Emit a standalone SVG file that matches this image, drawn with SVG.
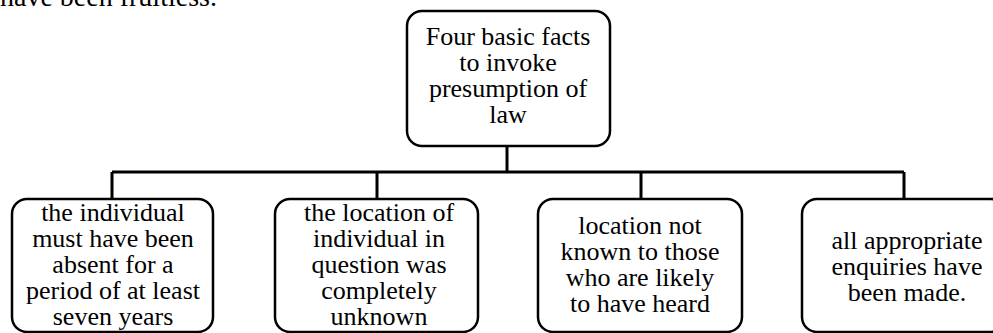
<svg xmlns="http://www.w3.org/2000/svg" width="993" height="333" viewBox="0 0 993 333">
<style>
.box{fill:#fff;stroke:#000;stroke-width:2.5}
.t{font-family:Tinos,"Liberation Serif","Noto Serif","DejaVu Serif",FreeSerif,Times,serif;font-size:26px;fill:#000;text-anchor:middle}
.c{fill:none;stroke:#000;stroke-width:3}
</style>
<rect width="993" height="333" fill="#fff"/>
<text x="0" y="6" style="font-family:Tinos,'Liberation Serif','Noto Serif','DejaVu Serif',FreeSerif,Times,serif;font-size:28px;fill:#000">have been fruitless.</text>
<g id="connectors">
<path class="c" d="M507 146V172M112 172H904M112 172V199M377 172V199M641 172V199M904 172V199"/>
</g>
<g id="root">
<rect class="box" x="407" y="11" width="203" height="135" rx="15"/>
<text class="t"><tspan x="508" y="45">Four basic facts</tspan><tspan x="508" y="71">to invoke</tspan><tspan x="508" y="97">presumption of</tspan><tspan x="508" y="123">law</tspan></text>
</g>
<g id="fact1">
<rect class="box" x="12" y="199" width="201" height="133" rx="15"/>
<text class="t"><tspan x="113" y="221">the individual</tspan><tspan x="113" y="247">must have been</tspan><tspan x="113" y="273">absent for a</tspan><tspan x="113" y="299">period of at least</tspan><tspan x="113" y="325">seven years</tspan></text>
</g>
<g id="fact2">
<rect class="box" x="275" y="199" width="203" height="133" rx="15"/>
<text class="t"><tspan x="379" y="221">the location of</tspan><tspan x="379" y="247">individual in</tspan><tspan x="379" y="273">question was</tspan><tspan x="379" y="299">completely</tspan><tspan x="379" y="325">unknown</tspan></text>
</g>
<g id="fact3">
<rect class="box" x="538" y="199" width="204" height="133" rx="15"/>
<text class="t"><tspan x="640" y="234">location not</tspan><tspan x="640" y="260">known to those</tspan><tspan x="640" y="286">who are likely</tspan><tspan x="640" y="312">to have heard</tspan></text>
</g>
<g id="fact4">
<rect class="box" x="802" y="199" width="204" height="133" rx="15"/>
<text class="t"><tspan x="907" y="249">all appropriate</tspan><tspan x="907" y="275">enquiries have</tspan><tspan x="907" y="301">been made.</tspan></text>
</g>
</svg>
